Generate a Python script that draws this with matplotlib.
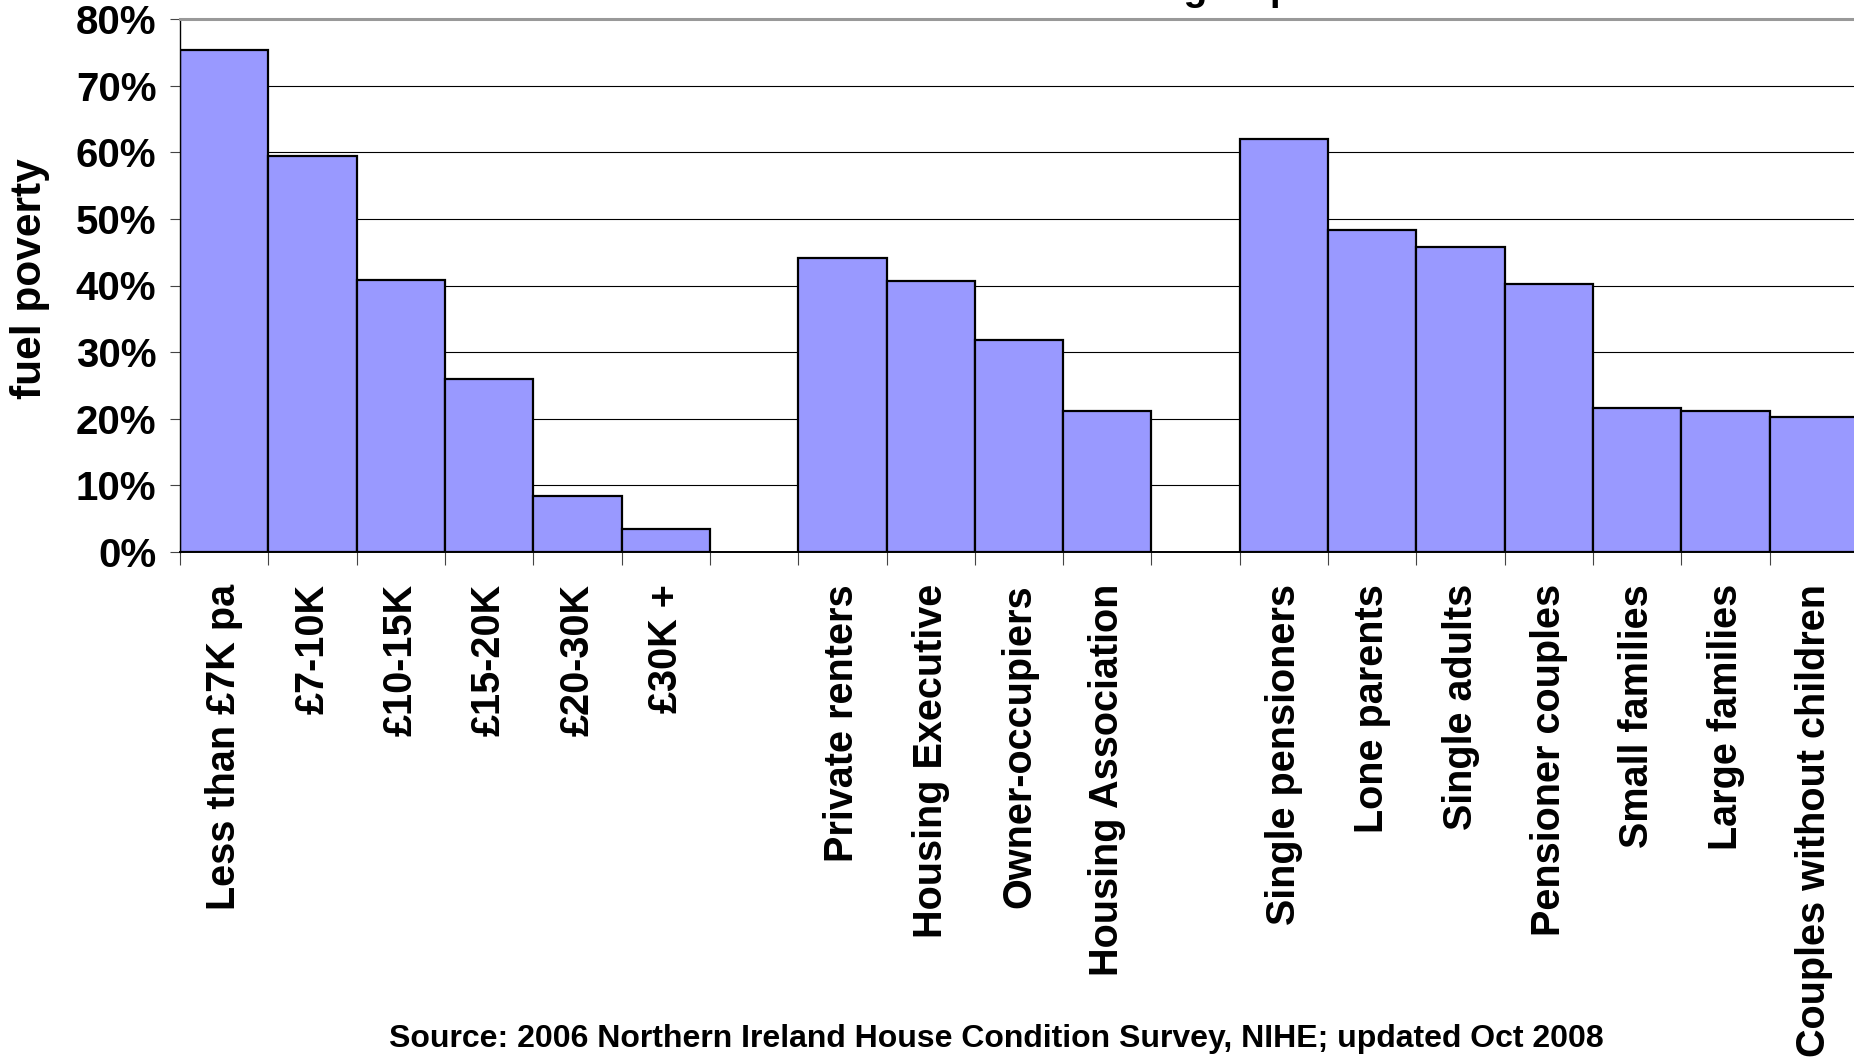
import matplotlib.pyplot as plt
import numpy as np

plt.rcParams['font.family'] = ['Liberation Sans', 'DejaVu Sans']
plt.rcParams['font.weight'] = 'bold'

income_labels = ["Less than £7K pa", "£7-10K", "£10-15K", "£15-20K", "£20-30K", "£30K +"]
income_values = [75.4, 59.5, 40.9, 26.0, 8.4, 3.4]

tenure_labels = ["Private renters", "Housing Executive", "Owner-occupiers", "Housing Association"]
tenure_values = [44.2, 40.7, 31.8, 21.1]

household_labels = ["Single pensioners", "Lone parents", "Single adults", "Pensioner couples",
                    "Small families", "Large families", "Couples without children"]
household_values = [62.0, 48.3, 45.8, 40.2, 21.6, 21.1, 20.3]

y_ticks = [0, 10, 20, 30, 40, 50, 60, 70, 80]

# one empty slot between the groups
labels = income_labels + [""] + tenure_labels + [""] + household_labels
values = income_values + [np.nan] + tenure_values + [np.nan] + household_values
x = np.arange(len(labels))

fig = plt.figure(figsize=(18.54, 10.58), dpi=100)
ax = fig.add_axes([180 / 1854, 1 - 552 / 1058, 1678 / 1854, 533 / 1058])

for yv in y_ticks[1:-1]:
    ax.axhline(yv, color="black", lw=0.8, zorder=1)

ax.bar(x, values, width=1.0, color="#9999FF", edgecolor="black", linewidth=1.6, zorder=2)

ax.set_xlim(-0.5, len(labels) - 0.5)
ax.set_ylim(0, 80)
ax.set_yticks(y_ticks)
ax.set_yticklabels([f"{v}%" for v in y_ticks], fontsize=29, fontweight="bold")
ax.tick_params(axis="y", length=7, width=0.8, color="#444444", pad=10)

ax.set_xticks(x)
ax.set_xticklabels(labels, rotation=90, fontsize=28.5, fontweight="bold")
ax.tick_params(axis="x", which="major", length=0, pad=23)
ax.set_xticks(np.arange(len(labels) + 1) - 0.5, minor=True)
ax.tick_params(axis="x", which="minor", length=9, width=0.8, color="#444444")

ax.spines["right"].set_visible(False)
ax.spines["top"].set_color("#999999")
ax.spines["top"].set_linewidth(2.2)
ax.spines["left"].set_linewidth(1.0)
ax.spines["bottom"].set_linewidth(1.4)

fig.text(30 / 1854, 1 - 279 / 1058, "fuel poverty", rotation=90, fontsize=30.5,
         fontweight="bold", ha="center", va="center")

# title sits mostly above the top edge, as in the reference
fig.text(840 / 1854, 1.0, "across household groups", fontsize=28, fontweight="bold",
         ha="left", va="baseline")

fig.text(996 / 1854, 1 - 1039 / 1058,
         "Source: 2006 Northern Ireland House Condition Survey, NIHE; updated Oct 2008",
         fontsize=23, fontweight="bold", ha="center", va="center")

fig.savefig("out.png", dpi=100)
